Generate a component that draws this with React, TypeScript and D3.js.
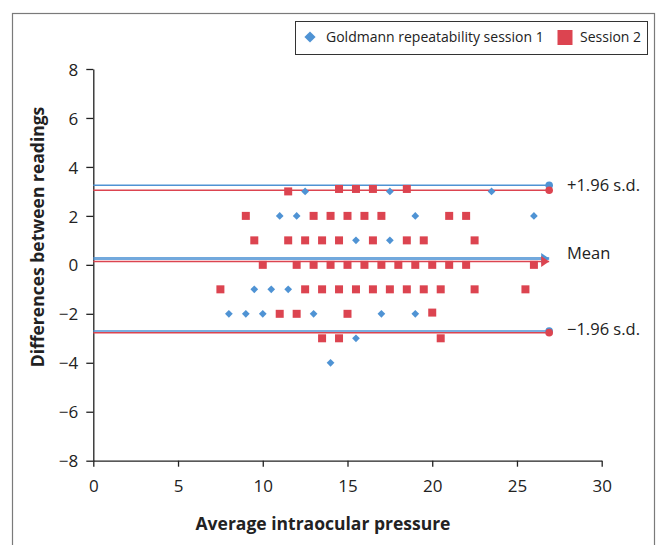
import React, { useEffect, useRef } from 'react';
import * as d3 from 'd3';

// Goldmann session 1 (blue diamonds): average IOP vs difference
const session1X = [12.5, 17.5, 23.5, 11, 12, 19, 26, 15.5, 17.5, 9.5, 10.5, 11.5, 8, 9, 10, 13, 17, 19, 15.5, 14];
const session1Y = [3, 3, 3, 2, 2, 2, 2, 1, 1, -1, -1, -1, -2, -2, -2, -2, -2, -2, -3, -4];

// Session 2 (red squares)
const session2X = [
    11.5, 14.5, 15.5, 16.5, 18.5,
    9, 13, 14, 15, 16, 17, 21, 22,
    9.5, 11.5, 12.5, 13.5, 14.5, 16.5, 18.5, 19.5, 22.5,
    10, 12, 13, 14, 15, 16, 17, 18, 19, 20, 21, 22, 26,
    7.5, 12.5, 13.5, 14.5, 15.5, 16.5, 17.5, 18.5, 19.5, 20.5, 22.5, 25.5,
    11, 12, 15, 20,
    13.5, 14.5, 20.5
];
const session2Y = [
    3, 3.1, 3.1, 3.1, 3.1,
    2, 2, 2, 2, 2, 2, 2, 2,
    1, 1, 1, 1, 1, 1, 1, 1, 1,
    0, 0, 0, 0, 0, 0, 0, 0, 0, 0, 0, 0, 0,
    -1, -1, -1, -1, -1, -1, -1, -1, -1, -1, -1, -1,
    -2, -2, -2, -1.95,
    -3, -3, -3
];

// limits of agreement: [upper, mean, lower]
const session1Limits = [3.25, 0.26, -2.7];
const session2Limits = [3.05, 0.14, -2.77];
const limitLabels = ['+1.96 s.d.', 'Mean', '\u22121.96 s.d.'];
const limitLabelY = [3.25, 0.46, -2.62];
const lineEndX = 26.9;

const xTicks = [0, 5, 10, 15, 20, 25, 30];
const yTicks = [-8, -6, -4, -2, 0, 2, 4, 6, 8];

const BLUE = '#4f93d4';
const RED = '#dc4450';
const FONT = '"Open Sans", sans-serif';

export default function App() {
    const svgRef = useRef<SVGSVGElement>(null);

    useEffect(() => {
        if (!svgRef.current) return;
        const svg = d3.select(svgRef.current);
        svg.selectAll('*').remove();

        const x = d3.scaleLinear().domain([0, 30]).range([93.3, 601.7]);
        const y = d3.scaleLinear().domain([-8, 8]).range([460.7, 69]);

        // outer frame
        svg.append('rect')
            .attr('x', 12.5).attr('y', 13.5)
            .attr('width', 642).attr('height', 545)
            .attr('fill', 'none').attr('stroke', '#7a7a7a').attr('stroke-width', 1.2);

        // x axis
        const gx = svg.append('g')
            .attr('transform', `translate(0,${y(-8)})`)
            .call(d3.axisBottom(x).tickValues(xTicks).tickSize(6).tickSizeOuter(0));
        gx.selectAll('text').attr('y', 31).attr('dy', 0);

        // y axis
        const gy = svg.append('g')
            .attr('transform', `translate(${x(0)},0)`)
            .call(d3.axisLeft(y).tickValues(yTicks).tickSize(7).tickSizeOuter(0));
        gy.selectAll('text').attr('x', -15).attr('dy', '0.36em');

        [gx, gy].forEach(g => {
            g.attr('font-family', FONT).attr('font-size', 17);
            g.selectAll('line,path').attr('stroke', '#222').attr('stroke-width', 1.3);
            g.selectAll('text').attr('fill', '#222');
        });

        // axis titles
        svg.append('text')
            .attr('x', 323).attr('y', 530)
            .attr('text-anchor', 'middle')
            .attr('font-family', FONT).attr('font-weight', 700).attr('font-size', 17.5)
            .attr('fill', '#222')
            .text('Average intraocular pressure');

        svg.append('text')
            .attr('transform', `translate(44,237) rotate(-90)`)
            .attr('text-anchor', 'middle')
            .attr('font-family', FONT).attr('font-weight', 700).attr('font-size', 17.5)
            .attr('fill', '#222')
            .text('Differences between readings');

        // limit lines
        const drawLimits = (limits: number[], color: string, meanWidth: number) => {
            limits.forEach((v, i) => {
                svg.append('line')
                    .attr('x1', x(0)).attr('x2', x(lineEndX))
                    .attr('y1', y(v)).attr('y2', y(v))
                    .attr('stroke', color)
                    .attr('stroke-opacity', i === 1 && color === BLUE ? 0.8 : 1)
                    .attr('stroke-width', i === 1 ? meanWidth : 1.5);
            });
        };
        drawLimits(session1Limits, BLUE, 2.8);
        drawLimits(session2Limits, RED, 1.5);

        // points
        const diamond = d3.symbol(d3.symbolDiamond2, 38);
        svg.append('g')
            .selectAll('path')
            .data(session1X.map((v, i) => [v, session1Y[i]]))
            .join('path')
            .attr('d', diamond)
            .attr('transform', d => `translate(${x(d[0])},${y(d[1])})`)
            .attr('fill', BLUE);

        svg.append('g')
            .selectAll('rect')
            .data(session2X.map((v, i) => [v, session2Y[i]]))
            .join('rect')
            .attr('x', d => x(d[0]) - 4).attr('y', d => y(d[1]) - 4)
            .attr('width', 8).attr('height', 8)
            .attr('fill', RED);

        // end markers
        [[session1Limits, BLUE], [session2Limits, RED]].forEach(([limits, color]) => {
            const l = limits as number[];
            [0, 2].forEach(i => {
                svg.append('circle')
                    .attr('cx', x(lineEndX)).attr('cy', y(l[i])).attr('r', 3.8)
                    .attr('fill', color as string);
            });
            const tx = x(lineEndX), ty = y(l[1]);
            svg.append('path')
                .attr('d', `M${tx - 8},${ty - 5.5}L${tx},${ty}L${tx - 8},${ty + 5.5}Z`)
                .attr('fill', color as string);
        });

        // limit labels
        svg.append('g')
            .attr('font-family', FONT).attr('font-size', 16.5).attr('fill', '#222')
            .selectAll('text')
            .data(limitLabels)
            .join('text')
            .attr('x', 567)
            .attr('y', (d, i) => y(limitLabelY[i]))
            .attr('dy', '0.35em')
            .text(d => d);

        // legend
        const lg = svg.append('g').attr('font-family', FONT).attr('font-size', 14).attr('fill', '#222');
        lg.append('rect')
            .attr('x', 295.5).attr('y', 21.5).attr('width', 352).attr('height', 33)
            .attr('fill', 'white').attr('stroke', '#333').attr('stroke-width', 1);
        lg.append('path')
            .attr('d', d3.symbol(d3.symbolDiamond2, 80)())
            .attr('transform', 'translate(310,37)')
            .attr('fill', BLUE);
        lg.append('text').attr('x', 326).attr('y', 37).attr('dy', '0.35em')
            .text('Goldmann repeatability session 1');
        lg.append('rect')
            .attr('x', 557.5).attr('y', 30).attr('width', 15).attr('height', 15)
            .attr('fill', RED);
        lg.append('text').attr('x', 580).attr('y', 37).attr('dy', '0.35em')
            .text('Session 2');
    }, []);

    return (
        <svg
            ref={svgRef}
            width={660}
            height={545}
            viewBox="0 0 660 545"
            style={{ position: 'absolute', left: 0, top: 0, background: 'white' }}
        />
    );
}
